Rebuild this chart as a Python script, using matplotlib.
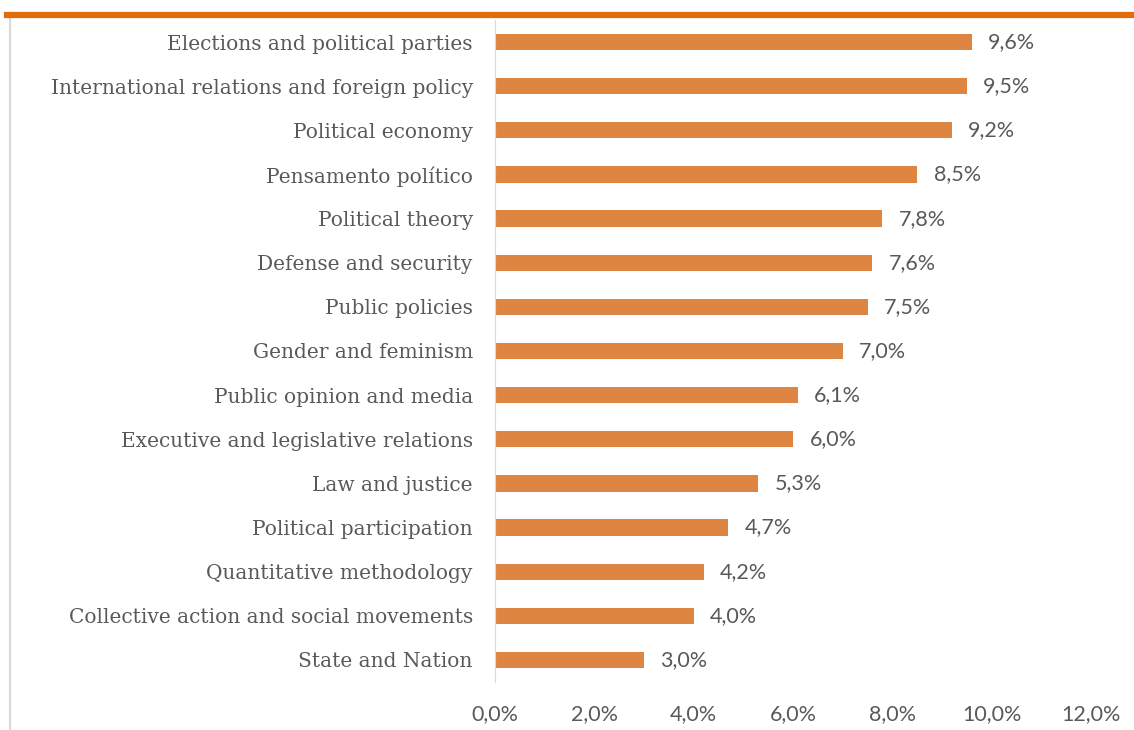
import matplotlib.pyplot as plt
from matplotlib.lines import Line2D
from matplotlib.ticker import FuncFormatter

# data, top to bottom
categories = ['Elections and political parties',
              'International relations and foreign policy',
              'Political economy',
              'Pensamento político',
              'Political theory',
              'Defense and security',
              'Public policies',
              'Gender and feminism',
              'Public opinion and media',
              'Executive and legislative relations',
              'Law and justice',
              'Political participation',
              'Quantitative methodology',
              'Collective action and social movements',
              'State and Nation']
values = [9.6, 9.5, 9.2, 8.5, 7.8, 7.6, 7.5, 7.0, 6.1, 6.0, 5.3, 4.7, 4.2, 4.0, 3.0]
xticks = [0, 2, 4, 6, 8, 10, 12]

W, H = 1134, 730
fig = plt.figure(figsize=(W / 100, H / 100), dpi=100)
ax = fig.add_axes([495 / W, 1 - 682 / H, (1091 - 495) / W, 662 / H])

gray = '#595959'
pos = list(range(len(categories)))
ax.barh(pos, values, height=0.37, color='#DE8641')
ax.set_ylim(len(categories) - 0.5, -0.5)
ax.set_xlim(0, 12)
ax.set_yticks(pos)
ax.set_yticklabels(categories, family='DejaVu Serif', fontsize=14.5, color=gray)
ax.set_xticks(xticks)
ax.xaxis.set_major_formatter(FuncFormatter(lambda v, p: f'{v:.1f}%'.replace('.', ',')))
for lab in ax.get_xticklabels():
    lab.set_family('Lato')
    lab.set_fontsize(15.5)
    lab.set_color(gray)
ax.tick_params(length=0)
ax.tick_params(axis='x', pad=16)
ax.tick_params(axis='y', pad=16)
for s in ['top', 'right', 'bottom']:
    ax.spines[s].set_visible(False)
ax.spines['left'].set_color('#D9D9D9')

for p, v in zip(pos, values):
    ax.text(v + 0.33, p, f'{v:.1f}%'.replace('.', ','), va='center', ha='left',
            family='Lato', fontsize=15.5, color=gray)

# frame of the chart area
fig.add_artist(Line2D([10 / W, 10 / W], [0, 1 - 18 / H], color='#D9D9D9', lw=1.5))
fig.add_artist(Line2D([7 / W, 1], [1 - 15 / H, 1 - 15 / H], color='#E36C0A', lw=4.5))

fig.savefig('out.png', dpi=100)
